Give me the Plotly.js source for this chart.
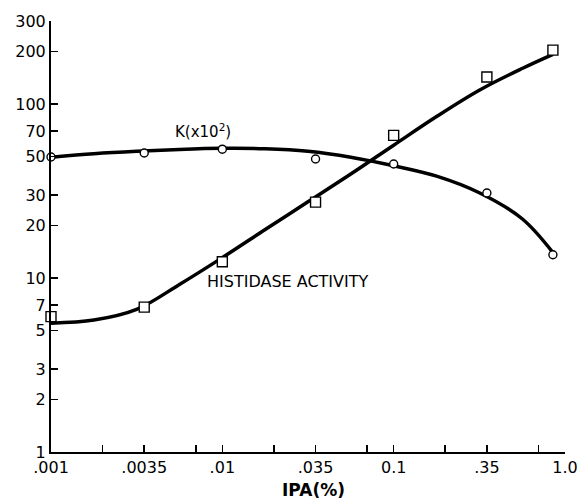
<!DOCTYPE html>
<html>
<head>
<meta charset="utf-8">
<script src="https://cdn.plot.ly/plotly-3.0.1.min.js"></script>
<style>html,body{margin:0;padding:0;background:#fff;}#chart{width:577px;height:501px;}</style>
</head>
<body>
<div id="chart"></div>
<script>
// Measured points
var ipaPoints = [0.001, 0.0035, 0.01, 0.035, 0.1, 0.35, 0.85];
var kValues = [49.6, 52.3, 55, 48.3, 45.2, 30.8, 13.6];
var histidaseValues = [6.0, 6.8, 12.4, 27.3, 66, 143, 204];

// Fitted curves (quarter-decade steps)
var curveX = [0.001, 0.00178, 0.00316, 0.00562, 0.01, 0.0178, 0.0316, 0.0562, 0.1, 0.178, 0.316, 0.562, 0.85];
var kCurveY = [49.5, 51.8, 53.5, 54.8, 55.6, 55.3, 53.5, 49.5, 44.2, 38.5, 30.9, 21.9, 14.0];
var hCurveY = [5.5, 5.73, 6.6, 9.18, 13.1, 19.0, 27.4, 39.6, 58.0, 84.7, 120, 160, 193];

// Axis ticks
var xTickVals = [0.001, 0.002, 0.0035, 0.007, 0.01, 0.02, 0.035, 0.07, 0.1, 0.2, 0.35, 0.7, 1.0];
var xTickText = ['.001', '', '.0035', '', '.01', '', '.035', '', '0.1', '', '.35', '', '1.0'];
var yTickVals = [1, 2, 3, 5, 7, 10, 20, 30, 50, 70, 100, 200, 300];
var yTickText = ['1', '2', '3', '5', '7', '10', '20', '30', '50', '70', '100', '200', '300'];

var fontFam = 'DejaVu Sans, sans-serif';

var traces = [
  {x: curveX, y: kCurveY, mode: 'lines', line: {shape: 'spline', smoothing: 1, color: '#000', width: 3.5}, cliponaxis: false, hoverinfo: 'skip'},
  {x: curveX, y: hCurveY, mode: 'lines', line: {shape: 'spline', smoothing: 1, color: '#000', width: 3.5}, cliponaxis: false, hoverinfo: 'skip'},
  {x: ipaPoints, y: kValues, mode: 'markers', cliponaxis: false,
   marker: {symbol: 'circle', size: 8, color: '#fff', line: {color: '#000', width: 1.4}}},
  {x: ipaPoints, y: histidaseValues, mode: 'markers', cliponaxis: false,
   marker: {symbol: 'square', size: 10, color: '#fff', line: {color: '#000', width: 1.4}}}
];

var layout = {
  width: 577, height: 501,
  margin: {l: 51, r: 12, t: 21, b: 49},
  paper_bgcolor: '#fff', plot_bgcolor: '#fff',
  showlegend: false,
  font: {family: fontFam, color: '#000', size: 16},
  xaxis: {
    type: 'log', range: [-3, 0],
    showline: true, linecolor: '#000', linewidth: 2,
    showgrid: false, zeroline: false,
    ticks: 'inside', ticklen: 7, tickwidth: 1.5, tickcolor: '#000',
    tickmode: 'array', tickvals: xTickVals, ticktext: xTickText,
    ticklabeloverflow: 'allow',
    tickfont: {family: fontFam, size: 16}
  },
  yaxis: {
    type: 'log', range: [0, Math.log10(300)],
    showline: true, linecolor: '#000', linewidth: 2,
    showgrid: false, zeroline: false,
    ticks: 'inside', ticklen: 7, tickwidth: 1.5, tickcolor: '#000',
    tickmode: 'array', tickvals: yTickVals, ticktext: yTickText,
    ticklabeloverflow: 'allow',
    tickfont: {family: fontFam, size: 16}
  },
  annotations: [
    {x: Math.log10(0.00776), y: Math.log10(70), xref: 'x', yref: 'y', text: 'K(x10<sup>2</sup>)', showarrow: false,
     font: {family: fontFam, size: 15}, xanchor: 'center', yanchor: 'middle'},
    {x: Math.log10(0.0242), y: Math.log10(9.5), xref: 'x', yref: 'y', text: 'HISTIDASE ACTIVITY', showarrow: false,
     font: {family: fontFam, size: 16}, xanchor: 'center', yanchor: 'middle'},
    {x: 0.51, y: -0.088, xref: 'paper', yref: 'paper', text: '<b>IPA(%)</b>', showarrow: false,
     font: {family: fontFam, size: 17}, xanchor: 'center', yanchor: 'middle'}
  ]
};

Plotly.newPlot('chart', traces, layout, {staticPlot: true, displayModeBar: false});
</script>
</body>
</html>
